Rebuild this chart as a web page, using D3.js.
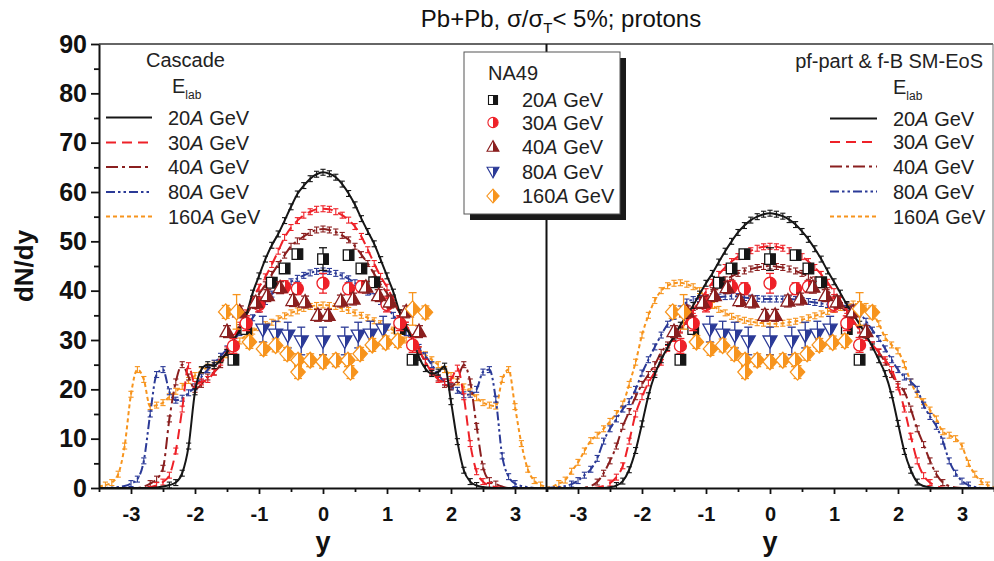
<!DOCTYPE html>
<html><head><meta charset="utf-8">
<script src="https://cdn.jsdelivr.net/npm/d3@7"></script>
<style>body{margin:0;background:#fff}svg{display:block}</style>
</head><body>
<svg id="c" width="994" height="561"></svg>
<script>
// ---------------- DATA ----------------
const rapidity = [
 -3.5,-3.4,-3.3,-3.2,-3.1,-3.0,-2.9,-2.8,-2.7,-2.6,
 -2.5,-2.4,-2.3,-2.2,-2.1,-2.0,-1.9,-1.8,-1.7,-1.6,
 -1.5,-1.4,-1.3,-1.2,-1.1,-1.0,-0.9,-0.8,-0.7,-0.6,
 -0.5,-0.4,-0.3,-0.2,-0.1,0,0.1,0.2,0.3,0.4,
 0.5,0.6,0.7,0.8,0.9,1.0,1.1,1.2,1.3,1.4,
 1.5,1.6,1.7,1.8,1.9,2.0,2.1,2.2,2.3,2.4,
 2.5,2.6,2.7,2.8,2.9,3.0,3.1,3.2,3.3,3.4,
 3.5];
const energies = ["20", "30", "40", "80", "160"];

// Cascade model (left panel)
const cascade20 = [
 0,0,0,0,0,0,0,0,0,0.1,
 0.3,0.6,1.1,3,8.5,19.5,24,25,24.8,26,
 27.5,30,32,35,39.5,43,46.4,49.2,51.5,54.2,
 57,59.6,61.3,62.7,63.6,64,63.7,63,61.6,59.7,
 57.4,54.6,52,49.5,46.3,43,39.7,35.5,32.5,30,
 26.5,24.2,23.2,23.5,24.7,17.5,9.4,3.6,1.3,0.5,
 0.2,0.1,0,0,0,0,0,0,0,0,
 0];
const cascade30 = [
 0,0,0,0,0,0,0,0,0.2,0.5,
 1.2,2.6,7.5,16,24.8,21,21.5,22,23.5,25.5,
 28,30.5,33,35.5,38.2,40.7,42.8,45.3,48,50.8,
 52.8,54.2,55.3,56,56.5,56.6,56.5,56,55.3,54.3,
 53,51,48.3,45.5,42.9,40.7,38.2,35.5,33,30.5,
 28,25.5,23.5,22,21.5,22,24.3,18.5,9,3.3,
 1.3,0.5,0.2,0,0,0,0,0,0,0,
 0];
const cascade40 = [
 0,0,0,0,0,0,0,0.3,0.9,1.8,
 4,14,21.5,25,22.5,20,21,22.5,23.5,25,
 27.5,30,32.5,35,37.2,39.3,41.2,43.3,45.3,47.2,
 49,50.1,51,51.8,52.3,52.5,52.3,51.9,51.2,50.3,
 49,47.3,45.5,43.4,41.3,39.5,37.5,35.5,33,30.5,
 28,25.5,23.5,22.3,21,20.5,22,25,21.5,12.5,
 4.3,1.5,0.8,0.3,0,0,0,0,0,0,
 0];
const cascade80 = [
 0,0,0.1,0.2,0.4,0.9,1.8,5.5,15,23,
 24,19.5,17.8,18.2,19.3,20.5,22.5,24,25.3,26.7,
 28.2,29.8,31.5,33,34.5,36.2,37.8,39.3,40.2,41,
 41.8,42.5,43.1,43.6,43.9,44,43.9,43.5,43,42.4,
 41.6,40.6,39.7,38.8,37.8,36.5,35,33.2,31.5,30,
 28.5,26.8,25,23,21.5,20.5,19.8,18.9,19,20,
 23.5,24,18,6.5,2.3,0.9,0.4,0.2,0,0,
 0];
const cascade160 = [
 0.3,0.6,1.1,2.8,8.5,19,24,22,16.5,16.8,
 17.3,18.5,19.6,20.6,21.8,22.8,23.8,24.5,25.2,26,
 27,28.6,29.8,31,31.8,32.5,33.1,33.6,34.3,34.9,
 35.5,35.9,36.4,36.8,37,37.1,37,36.8,36.4,36,
 35.5,35,34.5,33.9,33.3,32.6,32,31,30,29,
 28,27,26,25,24,22.8,21.5,20.5,19.5,18.3,
 17.3,16.8,16.6,22,24,16.5,9,3.8,1.5,0.6,
 0.3];

// pf-part & f-B SM-EoS model (right panel)
const pf20 = [
 0,0,0,0,0,0,0,0,0,0,
 0.15,0.5,1.4,3.7,7.6,13,18.7,23,26,28.5,
 30.8,33,35,37,39.3,41.5,43.5,45.8,48,50,
 51.8,53.2,54.3,55,55.5,55.7,55.5,55.1,54.4,53.4,
 52,50.4,48.5,46.4,44,41.8,39.5,37.2,35.2,33.2,
 31,28.6,26,23.2,18.9,13.1,7.4,3.6,1.2,0.4,
 0.15,0,0,0,0,0,0,0,0,0,
 0];
const pf30 = [
 0,0,0,0,0,0,0,0,0.1,0.4,
 1,2.2,4.5,9.5,15,18.5,21.3,23.5,25.5,28.3,
 30.3,32,34,36,38,39.8,41.7,43.3,44.7,45.9,
 46.9,47.6,48.1,48.6,48.9,49,48.9,48.6,48.1,47.6,
 46.9,45.9,44.7,43.3,41.7,39.8,38,36,34,32,
 30.5,29,27.6,26,24,20.5,16,10.5,5.5,2.5,
 1.1,0.4,0.1,0,0,0,0,0,0,0,
 0];
const pf40 = [
 0,0,0,0,0,0,0.1,0.4,1.2,3,
 5.5,8.5,12.5,15.5,18.5,21,23,25,27.5,29,
 30.5,32.2,33.8,35.4,37,38.6,40,41.2,42.2,42.9,
 43.5,44,44.4,44.7,44.9,45,44.9,44.7,44.4,44,
 43.5,42.9,42.2,41.2,40,38.6,37,35.4,33.8,32.2,
 30.5,29,27.5,25.5,23,21,19.5,16,12,8.8,
 5.5,2.8,1.1,0.4,0.1,0,0,0,0,0,
 0];
const pf80 = [
 0,0.1,0.2,0.4,0.8,1.5,2.6,3.8,6,9.5,
 12,14,16,17.5,20,23.3,26,28.6,31,33.2,
 34.8,36.3,37.7,38.2,38.4,38.3,38.5,38.7,38.8,38.9,
 38.8,38.6,38.5,38.4,38.3,38.3,38.3,38.3,38.3,38.2,
 38,37.8,37.6,37.4,37.2,37.1,37,36.9,36.5,35.5,
 33.8,32,30.3,28.2,26,24,22.5,21.5,20,16.8,
 14.5,12.5,9.5,5.5,3,1.4,0.6,0.2,0,0,
 0];
const pf160 = [
 0.1,0.3,0.9,1.6,3.4,5.2,7.5,9.6,10.7,12,
 13.5,15.1,17,21,25.5,31,35,38,40,41,
 41.5,41.6,41.3,40.8,40,38.5,37,36.2,35.5,34.8,
 34.3,34,33.7,33.5,33.4,33.3,33.3,33.4,33.6,33.8,
 34.1,34.5,34.9,35.3,35.8,36.2,36.6,37,37.3,37.2,
 36.8,35.5,33.3,30.5,29,27.8,25,21.5,19,17.5,
 15.8,14,11.4,10.7,10,8.5,5,2.8,1.3,0.6,
 0.2];
const modelErr = 0.6;

// NA49 data
const na49_20_y = [-1.4,-1.2,-0.8,-0.6,-0.4,0,0.4,0.6,0.8,1.2,1.4];
const na49_20_v = [26,32.2,41.6,44.5,47.4,46.4,47.2,44.5,41.7,32.2,26];
const na49_20_e = [0.8,0.8,0.8,0.8,0.8,2.3,0.8,0.8,0.8,0.8,0.8];
const na49_30_y = [-1.4,-1.2,-1.0,-0.6,-0.4,0,0.4,0.6,1.0,1.2,1.4];
const na49_30_v = [28.8,33.4,37.2,40.8,40.4,41.5,40.4,40.8,37.2,33.4,29];
const na49_30_e = [1.5,1.5,1.5,1.2,1.2,2,1.2,1.2,1.5,1.5,1.5];
const na49_40_y = [-1.5,-1.3,-1.05,-0.87,-0.67,-0.47,-0.28,-0.08,0.08,0.28,0.47,0.67,0.87,1.05,1.3,1.5];
const na49_40_v = [31.7,35.7,37.6,39,40.6,38,37.7,35,35,37.9,38.3,40.7,39,37.7,35.7,31.7];
const na49_40_e = [1.2,1.2,1.2,1.2,1.2,1.2,1.2,1.2,1.2,1.2,1.2,1.2,1.2,1.2,1.2,1.2];
const na49_80_y = [-0.94,-0.74,-0.55,-0.34,0,0.34,0.55,0.74,0.94];
const na49_80_v = [32.2,31.2,31,29.8,29.8,29.8,31,31.2,32.2];
const na49_80_e = [2.6,2.6,2.6,2.8,2.8,2.8,2.6,2.6,2.6];
const na49_160_y = [-1.52,-1.35,-1.15,-0.93,-0.74,-0.56,-0.39,-0.39,-0.2,0,0.2,0.39,0.43,0.58,0.77,0.98,1.17,1.4,1.6];
const na49_160_v = [35.7,35.7,29.6,28.2,28.9,27.2,25.9,23.5,25.9,25.6,25.9,25.9,23.5,27.2,29,29.5,29.8,36.3,35.6];
const na49_160_e = [1.3,3.5,1.3,1.3,1.3,1.3,1.3,1.3,1.3,1.3,1.3,1.3,1.3,1.3,1.3,1.3,1.3,3.3,1.3];

const yTicks = [0,10,20,30,40,50,60,70,80,90];
const yMinorTicks = [5,15,25,35,45,55,65,75,85];
const xTicks = [-3,-2,-1,0,1,2,3];
const xMinorTicks = [-3.5,-2.5,-1.5,-0.5,0.5,1.5,2.5,3.5];

// ---------------- STYLE ----------------
const FONT = "'Liberation Sans', Arial, Helvetica, sans-serif";
const colors = ["#161616", "#ee2128", "#8a1f1f", "#2b3a97", "#f7941d"];
const dashes = [null, "10,6", "12,4,3,4", "9,3,2.5,3,2.5,3", "4,3"];
const shapes = ["square", "circle", "up", "down", "diamond"];

const svg = d3.select("#c").style("font-family", FONT);
const yS = d3.scaleLinear().domain([0, 90]).range([488, 44]);
const xL = d3.scaleLinear().domain([-3.5, 3.5]).range([99, 547]);
const xR = d3.scaleLinear().domain([-3.5, 3.5]).range([546, 994]);

const defs = svg.append("defs");
defs.append("clipPath").attr("id", "clipL").append("rect").attr("x", 99).attr("y", 44).attr("width", 447).attr("height", 444);
defs.append("clipPath").attr("id", "clipR").append("rect").attr("x", 546).attr("y", 44).attr("width", 448).attr("height", 444);
colors.forEach((c, i) => {
  const g = defs.append("linearGradient").attr("id", "half" + i).attr("x1", 0).attr("x2", 1).attr("y1", 0).attr("y2", 0);
  g.append("stop").attr("offset", 0.5).attr("stop-color", "#fff");
  g.append("stop").attr("offset", 0.5).attr("stop-color", c);
});

function shapePath(shape) {
  switch (shape) {
    case "square": return "M-5.3,-5.3H5.3V5.3H-5.3Z";
    case "circle": return "M-6,0A6,6 0 1,1 6,0A6,6 0 1,1 -6,0Z";
    case "up": return "M0,-7.5L7,5L-7,5Z";
    case "down": return "M0,7.5L7,-5L-7,-5Z";
    case "diamond": return "M0,-8L7.2,0L0,8L-7.2,0Z";
  }
}

// ---------------- CURVES ----------------
const cascadeSeries = [cascade20, cascade30, cascade40, cascade80, cascade160];
const pfSeries = [pf20, pf30, pf40, pf80, pf160];

function drawModel(x, series, clipId) {
  const g = svg.append("g").attr("clip-path", `url(#${clipId})`);
  for (let i = series.length - 1; i >= 0; i--) {
    const pts = rapidity.map((r, j) => [r, series[i][j]]);
    const line = d3.line().x(d => x(d[0])).y(d => yS(d[1])).curve(d3.curveMonotoneX);
    g.append("path").attr("d", line(pts)).attr("fill", "none")
      .attr("stroke", colors[i]).attr("stroke-width", 2)
      .attr("stroke-dasharray", dashes[i]);
    const eg = g.append("g").attr("stroke", colors[i]).attr("stroke-width", 1.1);
    pts.filter(d => d[1] > 0.4).forEach(d => {
      const px = x(d[0]), y1 = yS(d[1] + modelErr), y2 = yS(d[1] - modelErr);
      eg.append("line").attr("x1", px).attr("x2", px).attr("y1", y1).attr("y2", y2);
      eg.append("line").attr("x1", px - 2.6).attr("x2", px + 2.6).attr("y1", y1).attr("y2", y1);
      eg.append("line").attr("x1", px - 2.6).attr("x2", px + 2.6).attr("y1", y2).attr("y2", y2);
    });
  }
}
drawModel(xL, cascadeSeries, "clipL");
drawModel(xR, pfSeries, "clipR");

// ---------------- NA49 DATA ----------------
const na49 = [
  {y: na49_20_y, v: na49_20_v, e: na49_20_e},
  {y: na49_30_y, v: na49_30_v, e: na49_30_e},
  {y: na49_40_y, v: na49_40_v, e: na49_40_e},
  {y: na49_80_y, v: na49_80_v, e: na49_80_e},
  {y: na49_160_y, v: na49_160_v, e: na49_160_e}
];
function drawData(x) {
  const g = svg.append("g");
  na49.forEach((s, i) => {
    s.y.forEach((r, j) => {
      const px = x(r), py = yS(s.v[j]);
      const y1 = yS(s.v[j] + s.e[j]), y2 = yS(s.v[j] - s.e[j]);
      const eg = g.append("g").attr("stroke", colors[i]).attr("stroke-width", 1.3);
      eg.append("line").attr("x1", px).attr("x2", px).attr("y1", y1).attr("y2", y2);
      eg.append("line").attr("x1", px - 4).attr("x2", px + 4).attr("y1", y1).attr("y2", y1);
      eg.append("line").attr("x1", px - 4).attr("x2", px + 4).attr("y1", y2).attr("y2", y2);
      g.append("path").attr("d", shapePath(shapes[i])).attr("transform", `translate(${px},${py})`)
        .attr("fill", `url(#half${i})`).attr("stroke", colors[i]).attr("stroke-width", 1.3);
    });
  });
}
drawData(xL);
drawData(xR);

// ---------------- FRAME & AXES ----------------
svg.append("line").attr("x1", 99).attr("x2", 993).attr("y1", 44).attr("y2", 44).attr("stroke", "#333").attr("stroke-width", 1.5);
svg.append("line").attr("x1", 993).attr("x2", 993).attr("y1", 44).attr("y2", 488).attr("stroke", "#777").attr("stroke-width", 1);
svg.append("line").attr("x1", 546.5).attr("x2", 546.5).attr("y1", 44).attr("y2", 488).attr("stroke", "#111").attr("stroke-width", 2);

function styleAxis(g, size) {
  g.selectAll("path.domain").attr("stroke", "#111").attr("stroke-width", 2);
  g.selectAll(".tick line").attr("stroke", "#111").attr("stroke-width", 1.8);
  g.selectAll(".tick text").attr("fill", "#111").style("font-family", FONT)
    .style("font-size", size + "px").style("font-weight", "bold");
}
const yAx = svg.append("g").attr("transform", "translate(99,0)")
  .call(d3.axisLeft(yS).tickValues(yTicks).tickSize(8).tickSizeOuter(0).tickPadding(4).tickFormat(d => String(d)));
styleAxis(yAx, 25);
const yAxMinor = svg.append("g").attr("transform", "translate(99,0)")
  .call(d3.axisLeft(yS).tickValues(yMinorTicks).tickSize(5).tickFormat(""));
yAxMinor.select(".domain").remove();
styleAxis(yAxMinor, 25);

[xL, xR].forEach(x => {
  const a = svg.append("g").attr("transform", "translate(0,488)")
    .call(d3.axisBottom(x).tickValues(xTicks).tickSize(6).tickSizeOuter(0).tickPadding(13).tickFormat(d => String(d)));
  styleAxis(a, 20);
  const m = svg.append("g").attr("transform", "translate(0,488)")
    .call(d3.axisBottom(x).tickValues(xMinorTicks).tickSize(4).tickFormat(""));
  m.select(".domain").remove();
  styleAxis(m, 20);
  svg.append("text").attr("x", x(0)).attr("y", 551).attr("text-anchor", "middle")
    .style("font-size", "27px").style("font-weight", "bold").attr("fill", "#111").text("y");
});

svg.append("text").attr("transform", "translate(33,266) rotate(-90)").attr("text-anchor", "middle")
  .style("font-size", "26px").style("font-weight", "bold").attr("fill", "#111").text("dN/dy");

// Title
const title = svg.append("text").attr("x", 561).attr("y", 27).attr("text-anchor", "middle")
  .style("font-size", "24px").attr("fill", "#111");
title.append("tspan").text("Pb+Pb, \u03c3/\u03c3");
title.append("tspan").attr("dy", 6).style("font-size", "15px").text("T");
title.append("tspan").attr("dy", -6).text("< 5%; protons");

// ---------------- LEGENDS ----------------
const LEG = 20;
function energyText(g, x, y, e) {
  const t = g.append("text").attr("x", x).attr("y", y).style("font-size", LEG + "px").attr("fill", "#222");
  t.append("tspan").text(e);
  t.append("tspan").style("font-style", "italic").text("A");
  t.append("tspan").text(" GeV");
}
function elab(x, y) {
  const t = svg.append("text").attr("x", x).attr("y", y).style("font-size", LEG + "px").attr("fill", "#222");
  t.append("tspan").text("E");
  t.append("tspan").attr("dy", 6).style("font-size", "12px").text("lab");
}
function modelLegend(lx1, lx2, tx, rows) {
  const g = svg.append("g");
  energies.forEach((e, i) => {
    g.append("line").attr("x1", lx1).attr("x2", lx2).attr("y1", rows[i]).attr("y2", rows[i])
      .attr("stroke", colors[i]).attr("stroke-width", 2).attr("stroke-dasharray", dashes[i]);
    energyText(g, tx, rows[i] + 7, e);
  });
}
svg.append("text").attr("x", 146).attr("y", 67).style("font-size", LEG + "px").attr("fill", "#222").text("Cascade");
elab(172, 93);
modelLegend(106, 152, 168, [117.5, 142.5, 167, 192, 216.5]);

svg.append("text").attr("x", 983).attr("y", 68).attr("text-anchor", "end").style("font-size", LEG + "px").attr("fill", "#222").text("pf-part & f-B SM-EoS");
elab(893, 94);
modelLegend(830, 877, 893, [118.5, 142, 166.5, 191.5, 216.5]);

// NA49 box
svg.append("rect").attr("x", 470).attr("y", 58).attr("width", 156).attr("height", 162).attr("fill", "#1a1a1a");
svg.append("rect").attr("x", 464).attr("y", 52).attr("width", 156).attr("height", 162).attr("fill", "#fff").attr("stroke", "#555").attr("stroke-width", 1);
svg.append("text").attr("x", 488).attr("y", 80).style("font-size", LEG + "px").attr("fill", "#222").text("NA49");
const nl = svg.append("g");
[100, 122.5, 147, 171.5, 196].forEach((ry, i) => {
  nl.append("path").attr("d", shapePath(shapes[i])).attr("transform", `translate(493,${ry}) scale(0.85)`)
    .attr("fill", `url(#half${i})`).attr("stroke", colors[i]).attr("stroke-width", 1.3);
  energyText(nl, 522, ry + 7, energies[i]);
});
</script>
</body></html>
